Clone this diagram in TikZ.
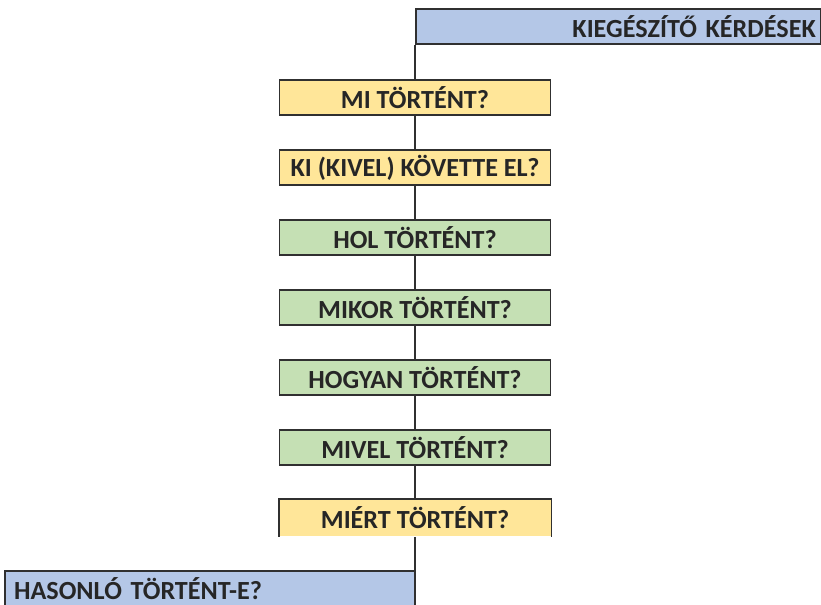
\documentclass[tikz,border=0pt]{standalone}
\usepackage{fontspec}
\setmainfont{Carlito}
\definecolor{boxblue}{HTML}{B4C7E7}
\definecolor{boxyellow}{HTML}{FFE699}
\definecolor{boxgreen}{HTML}{C5E0B4}
\definecolor{edge}{HTML}{303030}
\tikzset{
  qbox/.style={draw=edge, line width=1.4pt, minimum width=203.25pt, minimum height=26.25pt, inner sep=0pt, font=\bfseries\fontsize{19.6}{22}\selectfont, text=black!85},
  ybox/.style={qbox, fill=boxyellow},
  gbox/.style={qbox, fill=boxgreen},
  link/.style={draw=edge, line width=1.4pt},
}
\begin{document}
\begin{tikzpicture}[x=0.75pt,y=-0.75pt]
\useasboundingbox (0,0) rectangle (821,604);
% top header box
\node[qbox, fill=boxblue, anchor=north west, minimum width=303.75pt, text width=296pt, align=right] (top) at (415,8) {KIEGÉSZÍTŐ KÉRDÉSEK};
\node[ybox, anchor=north] (mi) at (415,79) {MI TÖRTÉNT?};
\node[ybox, anchor=north] (ki) at (415,149) {KI (KIVEL) KÖVETTE EL?};
\node[gbox, anchor=north] (hol) at (415,219) {HOL TÖRTÉNT?};
\node[gbox, anchor=north] (mikor) at (415,289) {MIKOR TÖRTÉNT?};
\node[gbox, anchor=north] (hogyan) at (415,359) {HOGYAN TÖRTÉNT?};
\node[gbox, anchor=north] (mivel) at (415,429) {MIVEL TÖRTÉNT?};
\node[ybox, draw=none, anchor=north, minimum height=27pt] (miert) at (415,499) {MIÉRT TÖRTÉNT?};
\draw[link] (miert.south west) -- (miert.north west) -- (miert.north east) -- (miert.south east);
\node[qbox, draw=none, fill=boxblue, anchor=north east, minimum width=306pt, minimum height=24.75pt, text width=294pt, align=left] (has) at (415,571) {HASONLÓ TÖRTÉNT-E?};
\draw[link] (has.south west) -- (has.north west) -- (has.north east) -- (has.south east);
% connectors
\draw[link] (top.south west) -- (mi.north);
\draw[link] (mi.south) -- (ki.north);
\draw[link] (ki.south) -- (hol.north);
\draw[link] (hol.south) -- (mikor.north);
\draw[link] (mikor.south) -- (hogyan.north);
\draw[link] (hogyan.south) -- (mivel.north);
\draw[link] (mivel.south) -- (miert.north);
\draw[link] (miert.south) -- (has.north east);
\end{tikzpicture}
\end{document}
